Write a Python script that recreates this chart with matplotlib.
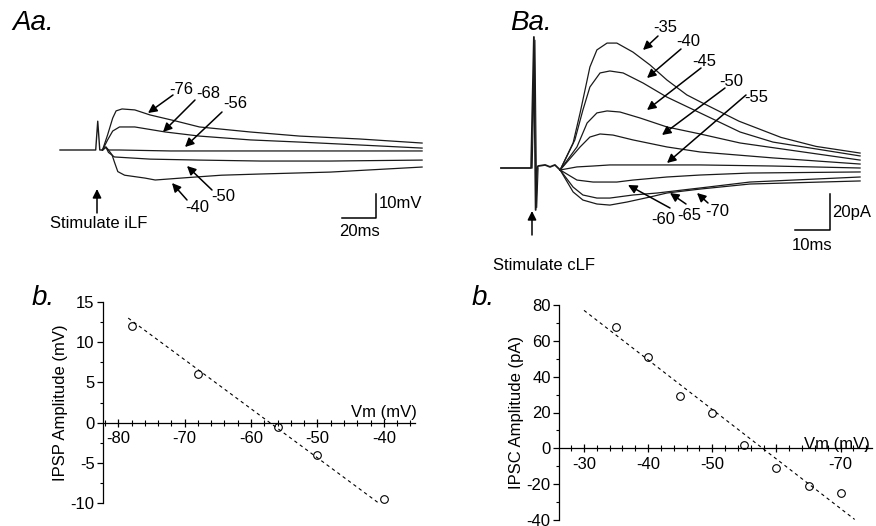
import numpy as np
import matplotlib
matplotlib.use("Agg")
import matplotlib.pyplot as plt
from matplotlib.ticker import MultipleLocator

plt.rcParams['font.family'] = ['Liberation Sans', 'DejaVu Sans']
plt.rcParams['axes.unicode_minus'] = False

W, H = 876, 526

# ---- Aa: IPSPs (time in ms, voltage in mV relative to baseline)
pre_a_t = [0, 21, 22.2, 23.4, 25]
pre_a_v = [0, 0, 12, 0, 0]

a_traces = {
    '-76': ([25, 28, 31, 33, 36.5, 44, 53, 68, 82, 112, 141, 176, 213],
            [0, 6.3, 13.3, 16.3, 17.1, 16.7, 14.6, 12.1, 9.6, 7.5, 5.8, 4.6, 2.9]),
    '-68': ([25, 28, 31, 35, 44, 62, 82, 112, 141, 176, 213],
            [0, 4.2, 7.9, 9.6, 9.6, 7.5, 5.8, 4.2, 3.3, 2.1, 0.8]),
    '-56': ([25, 27, 28.5, 35, 65, 112, 159, 213],
            [0, 1.2, 0, 0, -0.4, -0.4, -0.4, -0.4]),
    '-50': ([25, 27, 28.5, 32, 53, 82, 118, 159, 213],
            [0, 1.2, -1, -2.9, -3.8, -4.2, -4.6, -4.6, -4.2]),
    '-40': ([25, 27, 28.5, 30.6, 32, 34, 38, 50, 56, 75, 95, 118, 159, 213],
            [0, 1.2, 0, -2, -5, -9, -10.5, -11.7, -12.5, -11.5, -10.5, -10, -9.2, -7.1]),
}

# ---- Ba: IPSCs (time in ms, current in pA relative to baseline)
pre_b_t = [0, 8.6, 9.4, 9.9, 10.3, 10.6, 12.6, 14, 15.4, 16.9]
pre_b_i = [0, 0, 72.8, -23.3, 0, 1.1, 1.7, 0.6, 1.7, -1.1]
art_b_t = [8.9, 9.7, 10.2, 10.6]
art_b_i = [0, 71, -22, 0]

b_traces = {
    '-35': ([16.9, 20.6, 22.6, 24, 25.4, 27.4, 30.3, 33.1, 37.7, 42.6, 47.4, 53.1, 57, 68, 80, 90, 102.6],
            [-1.1, 13.9, 30.6, 43.3, 56.1, 65.6, 69.4, 69.4, 64.4, 57.2, 48.9, 40.6, 36.7, 26, 17, 12, 8.3]),
    '-40': ([16.9, 21.1, 23.4, 25.4, 28.3, 31.1, 34.9, 40.6, 47.4, 56.9, 68.3, 77.7, 102.6],
            [-1.1, 15.6, 32.2, 45, 52.8, 53.9, 52.8, 47.2, 39.4, 30.6, 20, 14.4, 6.7]),
    '-45': ([16.9, 21.7, 24.6, 27.4, 30.3, 34, 39.7, 47.4, 56.9, 68.3, 102.6],
            [-1.1, 11.7, 25, 30.6, 31.7, 31.1, 27.8, 22.8, 18.9, 13.9, 4.4]),
    '-50': ([16.9, 22.6, 25.4, 28.3, 32, 37.7, 47.4, 56.9, 77.7, 102.6],
            [-1.1, 11.7, 17.2, 18.9, 18.3, 15.6, 11.7, 8.9, 5.6, 2.2]),
    '-55': ([16.9, 21.7, 26.3, 31.1, 37.7, 47.4, 56.9, 77.7, 102.6],
            [-1.1, 0.6, 1.1, 1.7, 1.7, 1.7, 1.7, 1.1, 0]),
    '-60': ([16.9, 21.7, 26.3, 33.1, 37.7, 47.4, 56.9, 71.1, 102.6],
            [-1.1, -6.7, -7.8, -7.8, -6.7, -5, -3.9, -2.8, -2.2]),
    '-65': ([16.9, 20.6, 23.4, 27.4, 31.1, 37.7, 44.6, 52, 56.9, 71.1, 102.6],
            [-1.1, -10.6, -15, -16.7, -16.7, -15, -13.9, -12.2, -11.1, -7.8, -5]),
    '-70': ([16.9, 20.6, 23.4, 27.4, 31.1, 36, 42.6, 47.4, 56.9, 71.1, 102.6],
            [-1.1, -13.3, -17.8, -20, -20.6, -18.9, -16.1, -13.9, -11.7, -8.9, -7.2]),
}

# ---- b panels: I-V relations
ipsp_vm = [-78, -68, -56, -50, -40]
ipsp_amp = [12, 6, -0.5, -4, -9.5]
ipsp_fit_x = [-78.5, -39.8]
ipsp_fit_y = [13, -10.6]

ipsc_vm = [-35, -40, -45, -50, -55, -60, -65, -70]
ipsc_amp = [68, 51, 29, 20, 2, -11, -21, -25]
ipsc_fit_x = [-30, -72.2]
ipsc_fit_y = [77, -39.7]
ipsc_xticks = [-30, -40, -50, -60, -70]
ipsc_xticklabels = ['-30', '-40', '-50', '', '-70']

fig = plt.figure(figsize=(W / 100, H / 100), dpi=100)


def px_axes(x0, y0, x1, y1):
    return fig.add_axes([x0 / W, 1 - y1 / H, (x1 - x0) / W, (y1 - y0) / H])


def ftext(x, y, s, **kw):
    kw.setdefault('fontsize', 12)
    kw.setdefault('ha', 'center')
    kw.setdefault('va', 'center')
    fig.text(x / W, 1 - y / H, s, **kw)


def farrow(x0, y0, x1, y1):
    fig.add_artist(matplotlib.patches.FancyArrowPatch(
        (x0 / W, 1 - y0 / H), (x1 / W, 1 - y1 / H), transform=fig.transFigure,
        arrowstyle='-|>', mutation_scale=13, lw=1.1, color='black',
        shrinkA=0, shrinkB=0))


tr_col = '#1a1a1a'

# Aa traces (60 px = t0, 1.7 px/ms, baseline 150 px, 2.4 px/mV)
axA = px_axes(40, 60, 440, 240)
axA.set_xlim((40 - 60) / 1.7, (440 - 60) / 1.7)
axA.set_ylim((150 - 240) / 2.4, (150 - 60) / 2.4)
axA.axis('off')
axA.plot(pre_a_t, pre_a_v, color=tr_col, lw=1.0)
for lab, (t, v) in a_traces.items():
    axA.plot(t, v, color=tr_col, lw=0.9)
# scale bar 20 ms / 10 mV
sb_t = (376 - 60) / 1.7
sb_v = (150 - 218) / 2.4
axA.plot([sb_t - 20, sb_t, sb_t], [sb_v, sb_v, sb_v + 10], color='black', lw=1.1)

# Ba traces (501 px = t0, 3.5 px/ms, baseline 168 px, 1.8 px/pA)
axB = px_axes(480, 20, 876, 280)
axB.set_xlim((480 - 501) / 3.5, (876 - 501) / 3.5)
axB.set_ylim((168 - 280) / 1.8, (168 - 20) / 1.8)
axB.axis('off')
axB.plot(pre_b_t, pre_b_i, color=tr_col, lw=1.3)
axB.plot(art_b_t, art_b_i, color=tr_col, lw=0.8)
for lab, (t, i) in b_traces.items():
    axB.plot(t, i, color=tr_col, lw=0.9)
sbb_t = (830 - 501) / 3.5
sbb_i = (168 - 230) / 1.8
axB.plot([sbb_t - 10, sbb_t, sbb_t], [sbb_i, sbb_i, sbb_i + 20], color='black', lw=1.1)

# panel titles
ftext(12, 23, 'Aa.', fontsize=20, style='italic', ha='left')
ftext(510, 23, 'Ba.', fontsize=20, style='italic', ha='left')
ftext(32, 298, 'b.', fontsize=20, style='italic', ha='left')
ftext(472, 298, 'b.', fontsize=20, style='italic', ha='left')

# Aa labels and arrows
a_lab_pos = {'-76': (181, 89), '-68': (208, 94), '-56': (235, 104), '-50': (223, 197), '-40': (197, 208)}
a_arrows = {'-76': (173, 95, 148, 113), '-68': (195, 100, 163, 132), '-56': (222, 112, 185, 147),
            '-50': (212, 190, 187, 166), '-40': (187, 200, 172, 183)}
for lab in a_traces:
    ftext(*a_lab_pos[lab], lab)
    farrow(*a_arrows[lab])
farrow(97, 213, 97, 189)
ftext(99, 223, 'Stimulate iLF')
ftext(379, 203, '10mV', ha='left')
ftext(359, 232, '20ms')

# Ba labels and arrows
b_lab_pos = {'-35': (665, 28), '-40': (688, 41), '-45': (704, 62), '-50': (731, 82), '-55': (756, 97),
             '-60': (663, 220), '-65': (689, 215), '-70': (717, 212)}
b_arrows = {'-35': (658, 36, 643, 50), '-40': (681, 49, 647, 78), '-45': (701, 68, 647, 110),
            '-50': (725, 88, 662, 135), '-55': (746, 95, 667, 163), '-60': (670, 208, 628, 185),
            '-65': (686, 204, 670, 193), '-70': (708, 203, 697, 193)}
for lab in b_traces:
    ftext(*b_lab_pos[lab], lab)
    farrow(*b_arrows[lab])
farrow(532, 235, 532, 211)
ftext(544, 265, 'Stimulate cLF')
ftext(832, 212, '20pA', ha='left')
ftext(812, 245, '10ms')


def style_iv(ax):
    ax.spines['top'].set_visible(False)
    ax.spines['right'].set_visible(False)
    ax.spines['bottom'].set_position(('data', 0))
    for s in ('left', 'bottom'):
        ax.spines[s].set_linewidth(0.9)
    ax.tick_params(axis='both', which='major', labelsize=12, length=4, width=0.9)
    ax.tick_params(axis='both', which='minor', length=2, width=0.8)
    ax.tick_params(axis='x', which='both', direction='inout', pad=3)
    ax.tick_params(axis='x', which='major', length=6)
    ax.tick_params(axis='x', which='minor', length=4)
    ax.tick_params(axis='y', which='both', pad=2)


# left IV
ax1 = px_axes(103, 302, 415, 503)
ax1.plot(ipsp_fit_x, ipsp_fit_y, color='black', lw=0.8, dashes=(3, 3))
ax1.plot(ipsp_vm, ipsp_amp, 'o', mfc='none', mec='black', ms=5.5, mew=0.8)
ax1.set_xlim(-82.3, -35.3)
ax1.set_ylim(-10, 15)
ax1.xaxis.set_major_locator(MultipleLocator(10))
ax1.xaxis.set_minor_locator(MultipleLocator(2))
ax1.yaxis.set_major_locator(MultipleLocator(5))
ax1.yaxis.set_minor_locator(MultipleLocator(2.5))
style_iv(ax1)
ax1.set_ylabel('IPSP Amplitude (mV)', fontsize=12, labelpad=2)
ftext(417, 413, 'Vm (mV)', ha='right')

# right IV
ax2 = px_axes(559, 305, 872, 520)
ax2.plot(ipsc_fit_x, ipsc_fit_y, color='black', lw=0.8, dashes=(3, 3))
ax2.plot(ipsc_vm, ipsc_amp, 'o', mfc='none', mec='black', ms=5.5, mew=0.8)
ax2.set_xlim(-26.1, -74.9)
ax2.set_ylim(-40, 80)
ax2.set_xticks(ipsc_xticks)
ax2.set_xticklabels(ipsc_xticklabels)
ax2.xaxis.set_minor_locator(MultipleLocator(2))
ax2.yaxis.set_major_locator(MultipleLocator(20))
ax2.yaxis.set_minor_locator(MultipleLocator(10))
style_iv(ax2)
ax2.set_ylabel('IPSC Amplitude (pA)', fontsize=12, labelpad=2)
ftext(870, 444, 'Vm (mV)', ha='right')

fig.savefig('out.png', dpi=100)
